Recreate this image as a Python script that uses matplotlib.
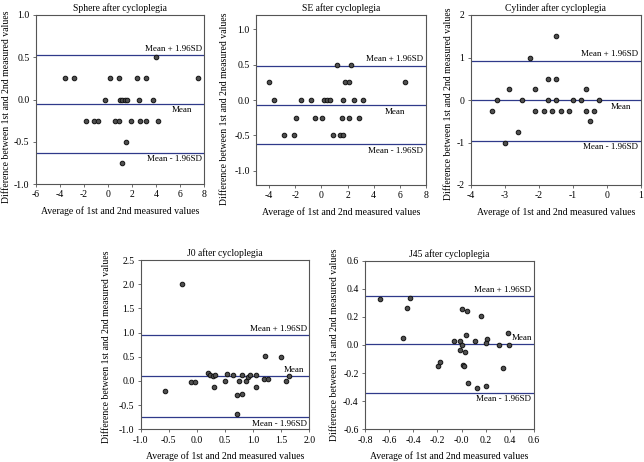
import numpy as np
import matplotlib
matplotlib.use("Agg")
import matplotlib.pyplot as plt
from matplotlib.ticker import FormatStrFormatter

plt.rcParams['font.family'] = ['Liberation Serif', 'DejaVu Serif']
plt.rcParams['axes.unicode_minus'] = False

# Bland-Altman data (average, difference)
sphere_x = [-3.57, -2.82, 0.17, 0.92, 2.41, 3.16, 7.45, 4.02,
            -0.25, 1.0, 1.19, 1.39, 1.58, 2.55, 3.76,
            -1.82, -1.13, -0.85, 0.61, 0.92, 1.91, 2.66, 3.16, 4.15, 1.53, 1.19]
sphere_y = [0.25, 0.25, 0.25, 0.25, 0.25, 0.25, 0.25, 0.5,
            0, 0, 0, 0, 0, 0, 0,
            -0.25, -0.25, -0.25, -0.25, -0.25, -0.25, -0.25, -0.25, -0.25, -0.5, -0.75]
sphere_lines = [-0.051, 0.526, -0.628]

se_x = [1.21, 2.23, -4.0, 1.82, 2.08, 6.38,
        -3.59, -1.59, -0.82, 0.18, 0.44, 0.69, 1.69, 2.46, 3.21,
        -1.95, -0.46, 0.05, 1.56, 2.08, 2.85,
        -2.85, -2.08, 0.92, 1.44, 1.69]
se_y = [0.5, 0.5, 0.25, 0.25, 0.25, 0.25,
        0, 0, 0, 0, 0, 0, 0, 0, 0,
        -0.25, -0.25, -0.25, -0.25, -0.25, -0.25,
        -0.5, -0.5, -0.5, -0.5, -0.5]
se_lines = [-0.073, 0.485, -0.625]

cyl_x = [-1.5, -2.25, -1.74, -1.49, -2.87, -2.11, -0.62,
         -3.23, -2.49, -1.74, -1.49, -0.99, -0.75, -0.24,
         -3.36, -2.11, -1.86, -1.62, -1.36, -1.12, -0.62, -0.37,
         -0.5, -2.62, -2.99]
cyl_y = [1.5, 1.0, 0.5, 0.5, 0.25, 0.25, 0.25,
         0, 0, 0, 0, 0, 0, 0,
         -0.25, -0.25, -0.25, -0.25, -0.25, -0.25, -0.25, -0.25,
         -0.5, -0.75, -1.0]
cyl_lines = [-0.008, 0.925, -0.957]

j0_x = [-0.265, -0.56, -0.10, -0.03, 0.19, 0.23, 0.29, 0.32, 0.30, 0.50, 0.54,
        0.65, 0.71, 0.72, 0.75, 0.81, 0.81, 0.87, 0.91, 0.94, 1.06, 1.06,
        1.21, 1.20, 1.26, 1.49, 1.58, 1.64]
j0_y = [2.01, -0.21, -0.02, -0.02, 0.16, 0.13, 0.11, 0.13, -0.12, 0.0, 0.15,
        0.12, -0.30, -0.69, 0.0, -0.27, 0.12, 0.0, 0.09, 0.12, 0.12, -0.12,
        0.52, 0.05, 0.03, 0.50, 0.0, 0.11]
j0_lines = [0.096, 0.944, -0.751]

j45_x = [-0.673, -0.424, -0.455, -0.485, 0.001, 0.045, 0.161, -0.063, -0.010,
         0.040, 0.006, -0.013, 0.026, 0.109, 0.214, 0.200, 0.310, 0.385, 0.396,
         0.346, -0.195, -0.179, 0.015, 0.020, 0.053, 0.128, 0.202]
j45_y = [0.325, 0.337, 0.263, 0.052, 0.254, 0.244, 0.204, 0.031, 0.028,
         0.071, 0.0, -0.033, -0.052, 0.031, 0.043, 0.017, -0.002, 0.088, 0.0,
         -0.164, -0.152, -0.123, -0.142, -0.152, -0.273, -0.304, -0.292]
j45_lines = [0.005, 0.346, -0.341]

W, H = 644, 462
fig = plt.figure(figsize=(W / 100, H / 100), dpi=100)


def px_axes(l, t, r, b):
    return fig.add_axes([l / W, 1 - b / H, (r - l) / W, (b - t) / H])


panels = [
    # title, x, y, lines, rect, xlim, ylim, xticks, yticks, xfmt, yfmt, mean label, ylabel pos
    ("Sphere after cycloplegia", sphere_x, sphere_y, sphere_lines, (35.7, 15, 204.3, 184),
     (-6, 8), (-1, 1), np.arange(-6, 9, 2), np.arange(-1, 1.01, 0.5), '%d', '%.1f',
     (0.93, False), (-0.148, 0.46)),
    ("SE after cycloplegia", se_x, se_y, se_lines, (256, 15, 426, 185),
     (-5, 8), (-1.2, 1.2), np.arange(-4, 9, 2), np.arange(-1, 1.01, 0.5), '%d', '%.1f',
     (0.88, False), (-0.16, 0.45)),
    ("Cylinder after cycloplegia", cyl_x, cyl_y, cyl_lines, (470.7, 15, 641, 185),
     (-4, 1), (-2, 2), np.arange(-4, 1.01, 1), np.arange(-2, 2.01, 1), '%d', '%d',
     (0.94, False), (-0.102, 0.48)),
    ("J0 after cycloplegia", j0_x, j0_y, j0_lines, (140.7, 260, 309.3, 429.3),
     (-1, 2), (-1, 2.5), np.arange(-1, 2.01, 0.5), np.arange(-1, 2.51, 0.5), '%.1f', '%.1f',
     (0.97, True), (-0.174, 0.49)),
    ("J45 after cycloplegia", j45_x, j45_y, j45_lines, (365, 260.7, 534, 429.3),
     (-0.8, 0.6), (-0.6, 0.6), np.arange(-0.8, 0.61, 0.2), np.arange(-0.6, 0.61, 0.2), '%.1f', '%.1f',
     (0.99, True), (-0.152, 0.5)),
]

line_col = '#2f3a8a'
for title, xs, ys, lines, rect, xlim, ylim, xt, yt, xfmt, yfmt, mlab, ylpos in panels:
    ax = px_axes(*rect)
    mean, up, lo = lines
    for v in lines:
        ax.axhline(v, color=line_col, lw=0.9, zorder=1)
    ax.plot(xs, ys, 'o', ms=3.3, mfc='#505050', mec='#111111', mew=0.7, zorder=3)
    ax.set_xlim(*xlim)
    ax.set_ylim(*ylim)
    ax.set_xticks(xt)
    ax.set_yticks(yt)
    ax.xaxis.set_major_formatter(FormatStrFormatter(xfmt))
    ax.yaxis.set_major_formatter(FormatStrFormatter(yfmt))
    ax.tick_params(labelsize=7, length=2.5, width=0.6, color='#555555', pad=2)
    for s in ax.spines.values():
        s.set_color('#555555')
        s.set_linewidth(0.8)
    ax.set_title(title, fontsize=6.9, pad=3)
    ax.set_xlabel("Average of 1st and 2nd measured values", fontsize=7, labelpad=5)
    ax.set_ylabel("Difference between 1st and 2nd measured values", fontsize=7)
    ax.yaxis.set_label_coords(*ylpos)

    span = ylim[1] - ylim[0]
    off = 0.015 * span
    ax.text(0.985, up + off, "Mean + 1.96SD", transform=ax.get_yaxis_transform(),
            ha='right', va='bottom', fontsize=6.5)
    ax.text(0.985, lo - off, "Mean - 1.96SD", transform=ax.get_yaxis_transform(),
            ha='right', va='top', fontsize=6.5)
    mx, above = mlab
    if above:
        ax.text(mx, mean + off, "Mean", transform=ax.get_yaxis_transform(),
                ha='right', va='bottom', fontsize=6.5)
    else:
        ax.text(mx, mean - off, "Mean", transform=ax.get_yaxis_transform(),
                ha='right', va='top', fontsize=6.5)

fig.savefig("out.png", dpi=100)
